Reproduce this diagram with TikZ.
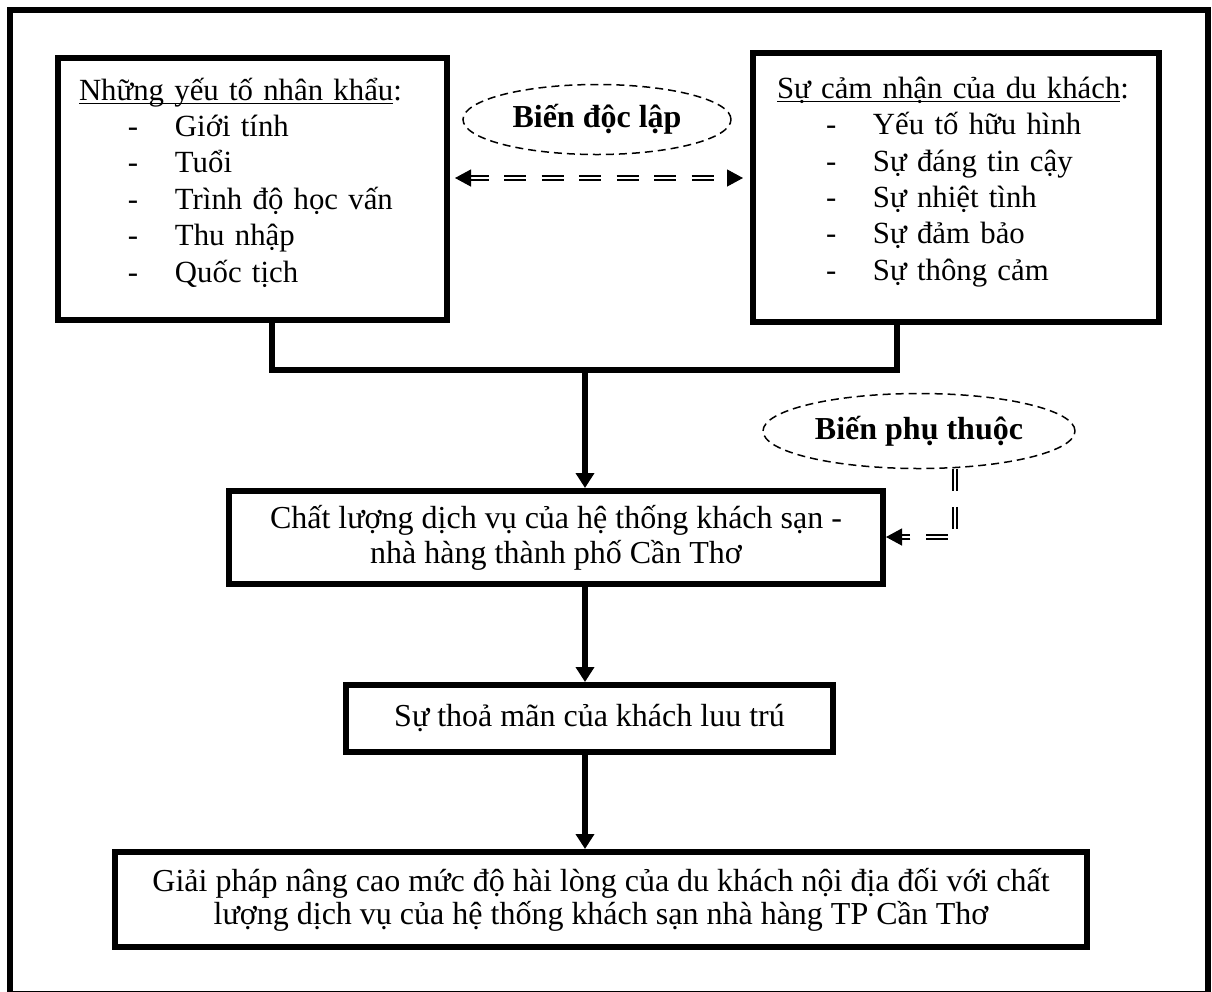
\documentclass[tikz,border=0pt]{standalone}
\usepackage{fontspec}
\setmainfont{Liberation Serif}
\usetikzlibrary{arrows.meta,shapes.geometric}

\tikzset{
  box/.style={draw, line width=3pt, inner sep=0pt, font=\fontsize{16}{18.5}\selectfont},
  listbox/.style={box, align=left, font=\fontsize{15.4}{18.2}\selectfont},
  oval/.style={draw, ellipse, dash pattern=on 4pt off 2.5pt, line width=0.75pt, inner sep=0pt, font=\fontsize{16}{18.5}\selectfont\bfseries},
  link/.style={line width=3pt},
  flow/.style={line width=3pt, -{Triangle[length=7.5pt,width=9pt]}},
  dbl/.style={double, line width=0.6pt, double distance=1.4pt, dash pattern=on 11pt off 7.75pt, dash phase=2pt},
  dtip/.tip={Triangle[length=8pt,width=8.5pt]}
}
\newcommand{\dashitem}[1]{\hspace*{24.5pt}\makebox[23.5pt][l]{-}#1}
\newcommand{\lastdepth}{\rule[-9pt]{0pt}{9pt}}

\begin{document}
\begin{tikzpicture}[x=0.5pt,y=-0.5pt]
  \useasboundingbox (0,0) rectangle (1212,992);
  % Draw frame
  \draw[line width=3pt] (10,10) rectangle (1208,994);
  % Draw the two input boxes
  \node[listbox, minimum width=194.5pt, minimum height=131pt, text width=173.5pt] (demog) at (252.5,189)
    {\underbar{Những yếu tố nhân khẩu}:\\ \dashitem{Giới tính}\\ \dashitem{Tuổi}\\ \dashitem{Trình độ học vấn}\\ \dashitem{Thu nhập}\\ \dashitem{Quốc tịch}\lastdepth};
  \node[listbox, minimum width=203pt, minimum height=134.5pt, text width=179pt] (percept) at (956,187.5)
    {\underbar{Sự cảm nhận của du khách}:\\ \dashitem{Yếu tố hữu hình}\\ \dashitem{Sự đáng tin cậy}\\ \dashitem{Sự nhiệt tình}\\ \dashitem{Sự đảm bảo}\\ \dashitem{Sự thông cảm}\lastdepth};
  % Draw the variable labels
  \node[oval, minimum width=134pt, minimum height=35pt] (indep) at (597,119.5) {Biến độc lập};
  \node[oval, minimum width=156pt, minimum height=37.5pt] (dep) at (919,431) {Biến phụ thuộc};
  % Draw the chain of boxes
  \node[box, minimum width=327pt, minimum height=46.5pt, align=center, font=\fontsize{16}{17.5}\selectfont] (quality) at (556,537.5)
    {Chất lượng dịch vụ của hệ thống khách sạn -\\ nhà hàng thành phố Cần Thơ};
  \node[box, minimum width=243.5pt, minimum height=33.5pt] (satisf) at (589.5,718.5) {Sự thoả mãn của khách luu trú};
  \node[box, minimum width=486pt, minimum height=47.5pt, align=center, font=\fontsize{16}{16.5}\selectfont] (solution) at (601,899.5)
    {Giải pháp nâng cao mức độ hài lòng của du khách nội địa đối với chất\\ lượng dịch vụ của hệ thống khách sạn nhà hàng TP Cần Thơ};
  % Draw the joints
  \coordinate (jl) at (272,370);
  \coordinate (jr) at (897,370);
  \coordinate (jm) at (585,370);
  \coordinate (mid) at (597,178);
  \coordinate (bend) at (955,537);
  \draw[link] (demog.south -| jl) -- (jl) -- (jr) -- (percept.south -| jr);
  \draw[flow] (jm) -- (quality.north -| jm);
  \draw[flow] (quality.south -| jm) -- (satisf.north -| jm);
  \draw[flow] (satisf.south -| jm) -- (solution.north -| jm);
  % Draw the dashed links
  \draw[dbl, dtip-dtip, shorten <=2.5pt, shorten >=3.5pt] (demog.east |- mid) -- (percept.west |- mid);
  \draw[dbl, dash phase=0pt, -dtip] (dep.south -| bend) -- (bend) -- (quality.east |- bend);
\end{tikzpicture}
\end{document}
